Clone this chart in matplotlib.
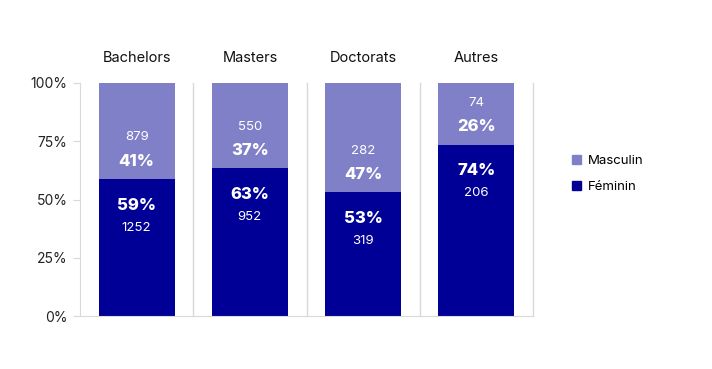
import matplotlib; matplotlib.use("Agg")
import matplotlib.pyplot as plt
from matplotlib.patches import Patch

categories = ["Bachelors", "Masters", "Doctorats", "Autres"]
feminin = [1252, 952, 319, 206]
masculin = [879, 550, 282, 74]

DARK = "#000096"
LIGHT = "#8080C8"
GRID = "#d9d9d9"
plt.rcParams["font.family"] = ["Inter", "DejaVu Sans"]

tot = [f + m for f, m in zip(feminin, masculin)]
pf = [100 * f / t for f, t in zip(feminin, tot)]
pm = [100 * m / t for m, t in zip(masculin, tot)]

fig = plt.figure(figsize=(7.12, 3.69), dpi=100)
ax = fig.add_axes([80/712, 1 - 316/369, 453/712, 233/369])
x = range(len(categories))
ax.bar(x, pf, width=0.67, color=DARK, zorder=2)
ax.bar(x, pm, bottom=pf, width=0.67, color=LIGHT, zorder=2)
ax.set_xlim(-0.5, 3.5)
ax.set_ylim(0, 100)
ax.set_yticks([0, 25, 50, 75, 100])
ax.set_yticklabels([f"{v}%" for v in [0, 25, 50, 75, 100]], fontsize=10, color="#222222")
ax.set_xticks([])
ax.tick_params(axis="y", length=5, color=GRID, pad=4)
for s in ["top", "right"]:
    ax.spines[s].set_visible(False)
for s in ["left", "bottom"]:
    ax.spines[s].set_color(GRID)
for xv in [0.5, 1.5, 2.5, 3.5]:
    ax.axvline(xv, color=GRID, lw=1, zorder=1, clip_on=False)

for i, c in enumerate(categories):
    ax.annotate(c, xy=(i, 1), xycoords=("data", "axes fraction"), xytext=(0, 18),
                textcoords="offset points", ha="center", va="center", fontsize=10.5, color="#111111")
    b = pf[i]
    # feminin labels below the boundary
    ax.annotate(f"{pf[i]:.0f}%", xy=(i, b), xytext=(0, -19), textcoords="offset points",
                ha="center", va="center", fontsize=12, fontweight="heavy", color="white", zorder=3)
    ax.annotate(f"{feminin[i]}", xy=(i, b), xytext=(0, -35), textcoords="offset points",
                ha="center", va="center", fontsize=9.5, color="white", zorder=3)
    # masculin labels above the boundary
    ax.annotate(f"{pm[i]:.0f}%", xy=(i, b), xytext=(0, 13), textcoords="offset points",
                ha="center", va="center", fontsize=12, fontweight="heavy", color="white", zorder=3)
    ax.annotate(f"{masculin[i]}", xy=(i, b), xytext=(0, 30), textcoords="offset points",
                ha="center", va="center", fontsize=9.5, color="white", zorder=3)

handles = [Patch(color=LIGHT, label="Masculin"), Patch(color=DARK, label="Féminin")]
fig.legend(handles=handles, loc="center left", bbox_to_anchor=(560/712, 1 - 174/369),
           frameon=False, fontsize=9.5, handlelength=0.7, handleheight=0.7,
           handletextpad=0.5, labelspacing=1.1)

fig.savefig("out.png", dpi=100)
